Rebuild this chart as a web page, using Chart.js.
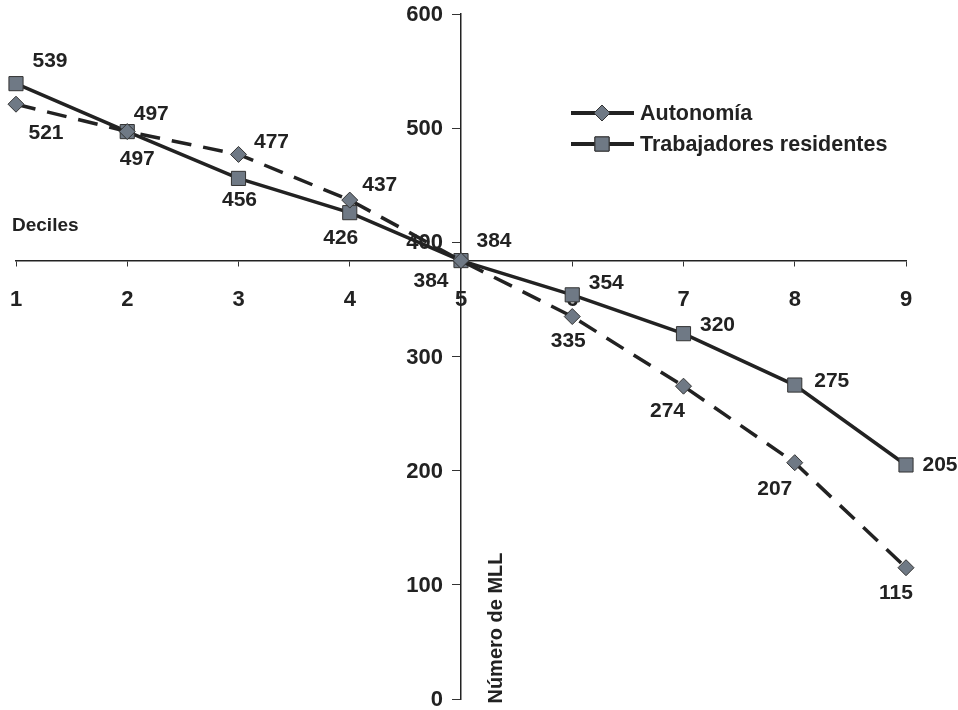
<!DOCTYPE html>
<html>
<head>
<meta charset="utf-8">
<script src="https://cdn.jsdelivr.net/npm/chart.js@4"></script>
<style>
  html, body { margin: 0; padding: 0; background: #fff; }
  #wrap { width: 958px; height: 710px; position: relative; }
</style>
</head>
<body>
<div id="wrap"><canvas id="grafico"></canvas></div>
<script>
// Datos
const deciles = ["1", "2", "3", "4", "5", "6", "7", "8", "9"];
const autonomia = [521, 497, 477, 437, 384, 335, 274, 207, 115];
const trabajadores = [539, 497, 456, 426, 384, 354, 320, 275, 205];
const yTicks = [0, 100, 200, 300, 400, 500, 600];

const FONT = "'Liberation Sans', Arial, sans-serif";
const INK = "#222222";
const MARKER = "#6f7985";

// Desplazamiento de las etiquetas de valores respecto a cada punto
const offAut = [[30, 29], [10, 28], [33, -12], [30, -15], [-30, 21], [-4, 25], [-16, 25], [-20, 27], [-10, 25]];
const offTrab = [[34, -22], [24, -17], [1, 22], [-9, 26], [33, -19], [34, -12], [34, -8], [37, -4], [34, 0]];

// Etiquetas del eje Y a la izquierda del eje (se dibujan antes de las líneas)
const ejeY = {
  id: "ejeY",
  beforeDatasetsDraw(chart) {
    const ctx = chart.ctx;
    const y = chart.scales.y;
    const x0 = chart.scales.x.getPixelForValue("5");
    ctx.save();
    ctx.font = "bold 22px " + FONT;
    ctx.fillStyle = INK;
    ctx.textAlign = "right";
    ctx.textBaseline = "middle";
    y.ticks.forEach((t) => ctx.fillText(String(t.value), x0 - 18, y.getPixelForValue(t.value) + 1));
    ctx.restore();
  }
};

const etiquetas = {
  id: "etiquetas",
  afterDatasetsDraw(chart) {
    const ctx = chart.ctx;
    ctx.save();
    ctx.font = "bold 21px " + FONT;
    ctx.fillStyle = INK;
    ctx.textAlign = "center";
    ctx.textBaseline = "middle";
    [offAut, offTrab].forEach((offs, di) => {
      const meta = chart.getDatasetMeta(di);
      meta.data.forEach((pt, i) => {
        ctx.fillText(String(chart.data.datasets[di].data[i]), pt.x + offs[i][0], pt.y + offs[i][1]);
      });
    });

    // Títulos de ejes
    ctx.font = "bold 19px " + FONT;
    ctx.textAlign = "left";
    ctx.fillText("Deciles", 12, 226);
    ctx.save();
    ctx.translate(496, 628);
    ctx.rotate(-Math.PI / 2);
    ctx.textAlign = "center";
    ctx.font = "bold 20px " + FONT;
    ctx.fillText("Número de MLL", 0, 0);
    ctx.restore();

    // Leyenda
    ctx.font = "bold 21.5px " + FONT;
    ctx.textAlign = "left";
    const filas = [113, 144];
    chart.data.datasets.forEach((ds, di) => {
      const y = filas[di];
      ctx.strokeStyle = INK;
      ctx.lineWidth = 4;
      ctx.setLineDash([]);
      ctx.beginPath();
      ctx.moveTo(571, y);
      ctx.lineTo(634, y);
      ctx.stroke();
      ctx.lineWidth = 1;
      ctx.strokeStyle = "#333";
      ctx.fillStyle = MARKER;
      Chart.helpers.drawPoint(ctx, { pointStyle: ds.pointStyle, radius: ds.pointRadius, rotation: 0, borderWidth: 1 }, 602, y);
      ctx.fill();
      ctx.stroke();
      ctx.fillStyle = INK;
      ctx.fillText(ds.label, 640, y + 1);
    });
    ctx.restore();
  }
};

new Chart(document.getElementById("grafico"), {
  type: "line",
  data: {
    labels: deciles,
    datasets: [
      {
        label: "Autonomía",
        data: autonomia,
        borderColor: INK,
        borderWidth: 3.5,
        borderDash: [20, 12],
        pointStyle: "rectRot",
        pointRadius: 8,
        pointBackgroundColor: MARKER,
        pointBorderColor: "#333",
        pointBorderWidth: 1,
        tension: 0
      },
      {
        label: "Trabajadores residentes",
        data: trabajadores,
        borderColor: INK,
        borderWidth: 3.5,
        pointStyle: "rect",
        pointRadius: 10,
        pointBackgroundColor: MARKER,
        pointBorderColor: "#333",
        pointBorderWidth: 1,
        tension: 0
      }
    ]
  },
  options: {
    responsive: true,
    maintainAspectRatio: false,
    animation: false,
    layout: { padding: { left: 16, top: 14, right: 52, bottom: 9 } },
    plugins: {
      legend: { display: false },
      tooltip: { enabled: false }
    },
    scales: {
      x: {
        type: "category",
        offset: false,
        position: { y: 384 },
        afterFit: (s) => { s.height = 0; s.paddingLeft = 0; s.paddingRight = 0; s.paddingTop = 0; s.paddingBottom = 0; },
        grid: { drawOnChartArea: false, drawTicks: true, tickLength: 5, color: "#333", lineWidth: 1 },
        border: { display: true, color: "#222", width: 1.5 },
        ticks: { padding: 21, color: INK, font: { family: FONT, size: 22, weight: "bold" }, maxRotation: 0 }
      },
      y: {
        min: 0,
        max: 600,
        position: { x: "5" },
        afterFit: (s) => { s.width = 0; s.paddingLeft = 0; s.paddingRight = 0; s.paddingTop = 0; s.paddingBottom = 0; },
        afterBuildTicks: (s) => { s.ticks = yTicks.map((v) => ({ value: v })); },
        grid: { drawOnChartArea: false, drawTicks: true, tickLength: 8, color: "#333", lineWidth: 1 },
        border: { display: true, color: "#222", width: 1.5 },
        ticks: { display: false }
      }
    }
  },
  plugins: [ejeY, etiquetas]
});
</script>
</body>
</html>
